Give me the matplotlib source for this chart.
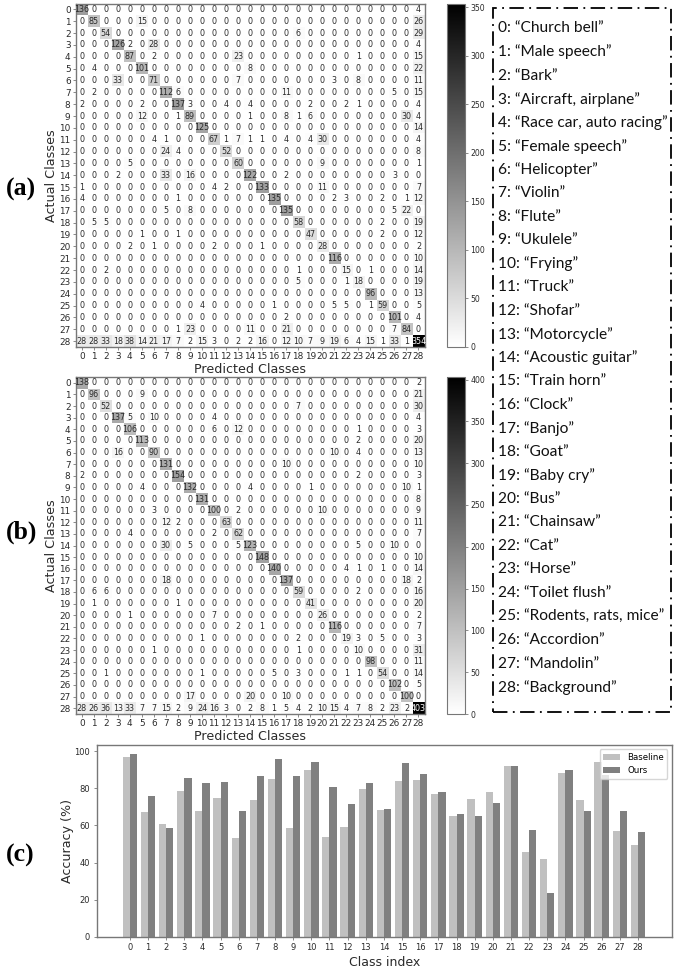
import numpy as np
import matplotlib
matplotlib.use("Agg")
import matplotlib.pyplot as plt
from matplotlib.patches import Rectangle

W, H = 692, 967
N_CLASSES = 29

# Non-zero cells of each confusion matrix, row -> {column: count}
cells_a = {
    0: {0: 136, 28: 4},
    1: {1: 85, 5: 15, 28: 26},
    2: {2: 54, 18: 6, 28: 29},
    3: {3: 126, 4: 2, 6: 28, 28: 4},
    4: {4: 87, 6: 2, 13: 23, 23: 1, 28: 15},
    5: {1: 4, 5: 101, 14: 8, 28: 22},
    6: {3: 33, 6: 71, 13: 7, 21: 3, 23: 8, 28: 11},
    7: {1: 2, 7: 112, 8: 6, 17: 11, 26: 5, 28: 15},
    8: {0: 2, 5: 2, 8: 137, 9: 3, 12: 4, 14: 4, 19: 2, 22: 2, 23: 1, 28: 4},
    9: {5: 12, 8: 1, 9: 89, 14: 1, 17: 8, 18: 1, 19: 6, 27: 30, 28: 4},
    10: {10: 125, 28: 14},
    11: {6: 4, 7: 1, 11: 67, 12: 1, 13: 7, 14: 1, 15: 1, 17: 4, 19: 4, 20: 30, 28: 4},
    12: {7: 24, 8: 4, 12: 52, 28: 8},
    13: {4: 5, 13: 60, 20: 9, 28: 1},
    14: {3: 2, 7: 33, 9: 16, 14: 122, 17: 2, 26: 3},
    15: {0: 1, 11: 4, 12: 2, 15: 133, 20: 11, 28: 7},
    16: {0: 4, 8: 1, 16: 135, 21: 2, 22: 3, 25: 2, 27: 1, 28: 12},
    17: {7: 5, 9: 8, 17: 135, 26: 5, 27: 22},
    18: {1: 5, 2: 5, 18: 58, 25: 2, 28: 19},
    19: {5: 1, 8: 1, 19: 47, 25: 2, 28: 12},
    20: {4: 2, 6: 1, 11: 2, 15: 1, 20: 28, 28: 2},
    21: {21: 116, 28: 10},
    22: {2: 2, 18: 1, 22: 15, 24: 1, 28: 14},
    23: {18: 5, 22: 1, 23: 18, 28: 19},
    24: {24: 96, 28: 13},
    25: {10: 4, 16: 1, 21: 5, 22: 5, 24: 1, 25: 59, 28: 5},
    26: {17: 2, 26: 101, 28: 4},
    27: {8: 1, 9: 23, 14: 11, 17: 21, 26: 7, 27: 84},
}
last_row_a = [28, 28, 33, 18, 38, 14, 21, 17, 7, 2, 15, 3, 0, 2, 2, 16, 0, 12,
              10, 7, 9, 19, 6, 4, 15, 1, 33, 1, 354]

cells_b = {
    0: {0: 138, 28: 2},
    1: {1: 96, 5: 9, 28: 21},
    2: {2: 52, 18: 7, 28: 30},
    3: {3: 137, 4: 5, 6: 10, 11: 4, 28: 4},
    4: {4: 106, 11: 6, 13: 12, 23: 1, 28: 3},
    5: {5: 113, 23: 2, 28: 20},
    6: {3: 16, 6: 90, 21: 10, 23: 4, 28: 13},
    7: {7: 131, 17: 10, 28: 10},
    8: {0: 2, 8: 154, 23: 2, 28: 3},
    9: {5: 4, 9: 132, 14: 4, 19: 1, 27: 10, 28: 1},
    10: {10: 131, 28: 8},
    11: {6: 3, 11: 100, 13: 2, 20: 10, 28: 9},
    12: {7: 12, 8: 2, 12: 63, 28: 11},
    13: {4: 4, 11: 2, 13: 62, 28: 7},
    14: {7: 30, 9: 5, 13: 5, 14: 123, 23: 5, 26: 10},
    15: {15: 148, 28: 10},
    16: {16: 140, 22: 4, 23: 1, 25: 1, 28: 14},
    17: {7: 18, 17: 137, 27: 18, 28: 2},
    18: {1: 6, 2: 6, 18: 59, 23: 2, 28: 16},
    19: {1: 1, 8: 1, 19: 41, 28: 20},
    20: {4: 1, 11: 7, 20: 26, 28: 2},
    21: {13: 2, 15: 1, 21: 116, 28: 7},
    22: {10: 1, 18: 2, 22: 19, 23: 3, 25: 5, 28: 3},
    23: {6: 1, 18: 1, 23: 10, 28: 31},
    24: {24: 98, 28: 11},
    25: {2: 1, 10: 1, 16: 5, 18: 3, 22: 1, 23: 1, 25: 54, 28: 14},
    26: {26: 102, 28: 5},
    27: {9: 17, 14: 20, 17: 10, 27: 100},
}
last_row_b = [28, 26, 36, 13, 33, 7, 7, 15, 2, 9, 24, 16, 3, 0, 2, 8, 1, 5,
              4, 2, 10, 15, 4, 7, 8, 2, 23, 2, 403]

baseline = [97, 67.5, 60.6, 78.6, 68, 74.6, 53.4, 74, 85, 58.5, 89.8, 54, 59, 79.9, 68.5,
            84.2, 84.4, 77, 65, 74.5, 77.9, 92, 45.5, 41.9, 88.1, 73.7, 94.2, 57, 49.5]
ours = [98.5, 76, 58.5, 85.6, 82.7, 83.6, 67.6, 86.7, 95.7, 86.9, 94.2, 80.6, 71.6, 82.7, 69,
        93.5, 87.6, 78.2, 66.2, 65, 72.3, 92, 57.5, 23.4, 89.7, 67.6, 87, 68, 56.3]

class_names = ["Church bell", "Male speech", "Bark", "Aircraft, airplane",
               "Race car, auto racing", "Female speech", "Helicopter", "Violin",
               "Flute", "Ukulele", "Frying", "Truck", "Shofar", "Motorcycle",
               "Acoustic guitar", "Train horn", "Clock", "Banjo", "Goat", "Baby cry",
               "Bus", "Chainsaw", "Cat", "Horse", "Toilet flush",
               "Rodents, rats, mice", "Accordion", "Mandolin", "Background"]


def build(cells, last):
    m = np.zeros((N_CLASSES, N_CLASSES), dtype=int)
    for r, row in cells.items():
        for c, v in row.items():
            m[r, c] = v
    m[N_CLASSES - 1, :] = last
    return m


def box(x0, y0, x1, y1):
    return [x0 / W, 1 - y1 / H, (x1 - x0) / W, (y1 - y0) / H]


SPINE = "#777777"
INK = "#2a2a2a"
fig = plt.figure(figsize=(W / 100, H / 100), dpi=100)


def heat(matrix, rect, cbar_rect, cticks, label_y):
    ax = fig.add_axes(box(*rect))
    im = ax.imshow(matrix, cmap="gray_r", aspect="auto", interpolation="nearest")
    thresh = matrix.max() / 2
    for i in range(N_CLASSES):
        for j in range(N_CLASSES):
            ax.text(j, i, str(matrix[i, j]), ha="center", va="center", fontsize=5.8,
                    color="white" if matrix[i, j] > thresh else INK)
    ax.set_xticks(range(N_CLASSES))
    ax.set_yticks(range(N_CLASSES))
    ax.tick_params(labelsize=6.4, length=2.2, width=0.6, pad=1.5, color=SPINE, labelcolor=INK)
    for s in ax.spines.values():
        s.set_color(SPINE)
        s.set_linewidth(1.0)
    ax.set_ylabel("Actual Classes", fontsize=9.2, color=INK, labelpad=0.5)
    fig.text((rect[0] + rect[2]) / 2 / W, 1 - label_y / H, "Predicted Classes",
             fontsize=9.1, color=INK, ha="center", va="center")
    cax = fig.add_axes(box(*cbar_rect))
    cb = fig.colorbar(im, cax=cax)
    cb.set_ticks(cticks)
    cb.ax.tick_params(labelsize=5.6, length=2.2, width=0.6, pad=1.5, color=SPINE, labelcolor=INK)
    cb.outline.set_edgecolor(SPINE)


heat(build(cells_a, last_row_a), (75.7, 3.5, 424.5, 347), (446.7, 3.5, 465, 347),
     range(0, 351, 50), 369)
heat(build(cells_b, last_row_b), (75.7, 377, 424.5, 714), (446.7, 377, 465, 714),
     range(0, 401, 50), 736)

axb = fig.add_axes(box(96.7, 745, 671.7, 936.7))
idx = np.arange(N_CLASSES)
axb.bar(idx - 0.2, baseline, 0.4, color="silver", label="Baseline")
axb.bar(idx + 0.2, ours, 0.4, color="gray", label="Ours")
axb.set_xlim(-1.83, 29.86)
axb.set_ylim(0, 103.4)
axb.set_xticks(idx)
axb.set_yticks(range(0, 101, 20))
axb.tick_params(labelsize=6, length=2.2, width=0.6, pad=2.5, color=SPINE, labelcolor=INK)
for s in axb.spines.values():
    s.set_color(SPINE)
    s.set_linewidth(1.0)
axb.set_ylabel("Accuracy (%)", fontsize=9.1, color=INK, labelpad=0.5)
axb.set_xlabel("Class index", fontsize=9, color=INK, labelpad=2.5)
axb.legend(loc="upper right", fontsize=6.2, borderaxespad=0.5)

for i, name in enumerate(class_names):
    fig.text(498 / W, 1 - (28.5 + 23.52 * i) / H, f"{i}: \u201c{name}\u201d",
             family="Lato", fontsize=11.15, color="#111111", va="center", ha="left")

fig.add_artist(Rectangle((492.7 / W, 1 - 712 / H), (671 - 492.7) / W, (712 - 8) / H,
                         transform=fig.transFigure, fill=False, edgecolor="black",
                         linewidth=1.3, linestyle=(0, (8, 3, 1, 3))))

for lab, y in [("(a)", 189), ("(b)", 532), ("(c)", 855)]:
    fig.text(6 / W, 1 - y / H, lab, family="Liberation Serif", fontweight="bold",
             fontsize=18.5, va="center", ha="left", color="black")

fig.savefig("out.png", dpi=100)
